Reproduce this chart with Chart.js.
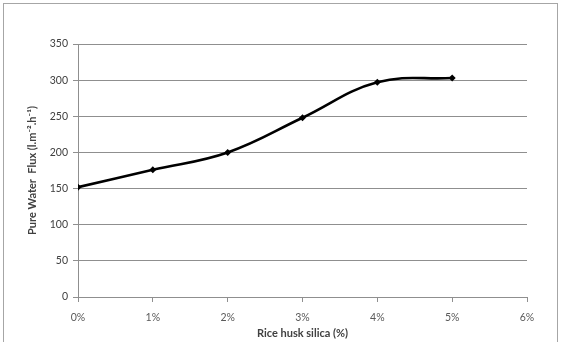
<!DOCTYPE html>
<html>
<head>
<meta charset="utf-8">
<script src="https://cdn.jsdelivr.net/npm/chart.js@4/dist/chart.umd.min.js"></script>
<style>
  html, body { margin: 0; padding: 0; background: #fff; overflow: hidden; }
  #frame {
    position: absolute; left: 3px; top: 3px;
    width: 555px; height: 360px;
    border: 1px solid #a6a6a6; box-sizing: border-box;
  }
  #wrap { position: absolute; left: 0; top: 0; width: 563px; height: 342px; }
</style>
</head>
<body>
<div id="frame"></div>
<div id="wrap"><canvas id="myChart" width="563" height="342"></canvas></div>
<script>
// Silica loading (%) and measured flux
const silicaPct = [0, 1, 2, 3, 4, 5]
const waterFlux = [152, 176, 200, 248, 297, 303]

const xMin = 0, xMax = 6, xStep = 1
const yMin = 0, yMax = 350, yStep = 50

const fontFamily = 'Lato, "Open Sans", "Liberation Sans", sans-serif'
const gridGray = '#8f8f8f'

const points = silicaPct.map((x, i) => ({ x: x, y: waterFlux[i] }))

const ctx = document.getElementById('myChart').getContext('2d')
new Chart(ctx, {
  type: 'scatter',
  data: {
    datasets: [{
      data: points,
      showLine: true,
      borderColor: '#000',
      backgroundColor: '#000',
      borderWidth: 2.6,
      tension: 0.4,
      pointStyle: 'rectRot',
      pointRadius: 3.5,
      pointBorderWidth: 0,
    }]
  },
  options: {
    responsive: false,
    animation: false,
    layout: { padding: { left: 0, top: 44, right: 36, bottom: 0 } },
    plugins: {
      legend: { display: false },
      tooltip: { enabled: false }
    },
    scales: {
      x: {
        type: 'linear',
        min: xMin,
        max: xMax,
        afterFit: s => { s.height = 45 },
        ticks: {
          stepSize: xStep,
          color: '#595959',
          padding: 9,
          font: { family: fontFamily, size: 10.5 },
          callback: v => v + '%'
        },
        grid: {
          drawOnChartArea: false,
          drawTicks: true,
          tickLength: 5,
          color: gridGray
        },
        border: { display: true, color: gridGray },
        title: {
          display: true,
          text: 'Rice husk silica (%)',
          color: '#404040',
          padding: { top: 0, bottom: 2 },
          font: { family: fontFamily, size: 11, weight: 'bold' }
        }
      },
      y: {
        min: yMin,
        max: yMax,
        afterFit: s => { s.width = 78 },
        ticks: {
          stepSize: yStep,
          color: '#404040',
          padding: 5,
          font: { family: fontFamily, size: 10.5 }
        },
        grid: {
          color: gridGray,
          tickLength: 5
        },
        border: { display: true, color: gridGray },
        title: {
          display: true,
          text: 'Pure Water  Flux (l.m\u207B\u00B2.h\u207B\u00B9)',
          color: '#404040',
          padding: { top: 26, bottom: 0 },
          font: { family: fontFamily, size: 11, weight: 'bold' }
        }
      }
    }
  }
})
</script>
</body>
</html>
